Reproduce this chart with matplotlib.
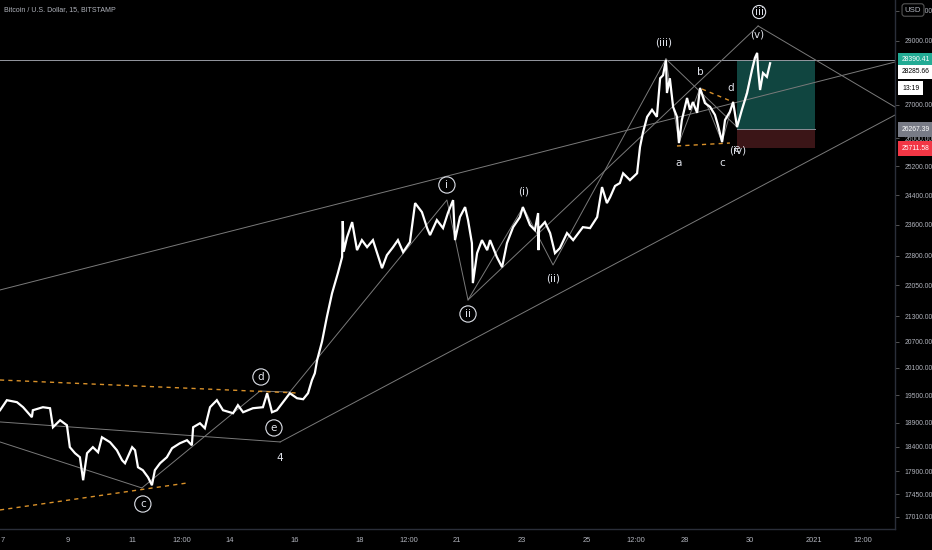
import matplotlib
matplotlib.use("Agg")
import matplotlib.pyplot as plt
import matplotlib.transforms as mtransforms
from matplotlib.ticker import FixedLocator, NullLocator, NullFormatter

# ── Datos: cierres (día de diciembre 2020, precio USD) ──
days = [6.91, 7.12, 7.43, 7.62, 7.89, 7.92, 8.23, 8.45, 8.54, 8.76, 8.97, 9.06,
        9.22, 9.37, 9.47, 9.59, 9.77, 9.93, 10.05, 10.30, 10.51, 10.67, 10.76,
        10.98, 11.07, 11.16, 11.31, 11.47, 11.59, 11.68, 11.84, 12.05, 12.21,
        12.45, 12.67, 12.82, 12.86, 13.07, 13.22, 13.38, 13.59, 13.78, 14.09,
        14.24, 14.40, 14.70, 15.01, 15.14, 15.29, 15.44, 15.63, 15.84, 16.06,
        16.25, 16.40, 16.52, 16.61, 16.68, 16.83, 16.98, 17.14, 17.32, 17.45,
        17.47, 17.50, 17.60, 17.76, 17.91, 18.06, 18.22, 18.40, 18.68, 18.83,
        19.02, 19.17, 19.33, 19.54, 19.70, 19.91, 20.07, 20.16, 20.37, 20.56,
        20.71, 20.87, 20.93, 21.08, 21.24, 21.33, 21.45, 21.48, 21.61, 21.76,
        21.92, 22.01, 22.22, 22.38, 22.53, 22.72, 22.93, 23.02, 23.24, 23.39,
        23.49, 23.50, 23.52, 23.70, 23.86, 24.01, 24.16, 24.38, 24.57, 24.87,
        25.09, 25.31, 25.46, 25.61, 25.71, 25.86, 26.01, 26.11, 26.32, 26.54,
        26.63, 26.72, 26.85, 27.00, 27.15, 27.25, 27.34, 27.43, 27.46, 27.55,
        27.65, 27.77, 27.83, 27.92, 28.08, 28.17, 28.26, 28.39, 28.48, 28.63,
        28.79, 28.94, 29.03, 29.16, 29.25, 29.40, 29.50, 29.62, 29.77, 29.93,
        30.08, 30.17, 30.24, 30.27, 30.33, 30.42, 30.54, 30.64]
prices = [19170, 19387, 19344, 19235, 19021, 19170, 19235, 19213, 18808, 18956,
          18850, 18392, 18268, 18186, 17723, 18268, 18392, 18288, 18598, 18494,
          18329, 18125, 18064, 18392, 18329, 17983, 17923, 17782, 17624, 17923,
          18064, 18186, 18371, 18473, 18536, 18432, 18808, 18892, 18787, 19235,
          19387, 19170, 19106, 19279, 19127, 19213, 19235, 19539, 19127, 19170,
          19344, 19539, 19430, 19408, 19539, 19826, 19982, 20276, 20700, 21279,
          21855, 22355, 22760, 23700, 22900, 23267, 23671, 22939, 23198, 23016,
          23198, 22480, 22810, 23016, 23198, 22887, 23146, 24181, 23938, 23512,
          23329, 23725, 23512, 23912, 24262, 23198, 23805, 24073, 23725, 23120,
          22106, 22862, 23198, 22939, 23198, 22760, 22505, 23120, 23538, 23805,
          24073, 23592, 23459, 23912, 22939, 23500, 23671, 23381, 22862, 22990,
          23381, 23198, 23538, 23512, 23805, 24619, 24181, 24345, 24650, 24730,
          25002, 24812, 25002, 25750, 26165, 26636, 26847, 26636, 27813, 27906,
          28390, 27358, 27813, 26934, 26636, 25866, 26542, 27205, 26847, 27082,
          26756, 27511, 27052, 26934, 26695, 26393, 25894, 26542, 26787, 27082,
          26334, 26847, 27358, 28072, 28452, 28613, 28072, 27450, 27978, 27858,
          28286]

# Ejes
y_ticks = [30000, 29000, 27000, 26000, 25200, 24400, 23600, 22800, 22050,
           21300, 20700, 20100, 19500, 18900, 18400, 17900, 17450, 17010]
x_ticks = [7, 9, 11, 12.5, 14, 16, 18, 19.5, 21, 23, 25, 26.5, 28, 30, 32, 33.5]
x_labels = ["7", "9", "11", "12:00", "14", "16", "18", "12:00", "21", "23",
            "25", "12:00", "28", "30", "2021", "12:00"]

# Puntos de onda (día, precio)
pt_c = (11.28, 17570)
pt_d = (14.92, 19587)
pt_d2 = (15.84, 19565)
pt_4 = (15.54, 18500)
pt_i = (20.68, 24265)
pt_ii = (21.33, 21692)
pt_si = (23.03, 24075)
pt_sii = (23.95, 22560)
pt_siii = (27.43, 28421)
pt_a = (27.83, 25866)
pt_b = (28.48, 27511)
pt_cc = (29.16, 25894)
pt_dd = (29.50, 27082)
pt_iv = (29.62, 26334)
pt_v = (30.24, 28613)
pt_iii_top = (30.27, 29492)

# Líneas auxiliares (inicio, fin)
upper_channel = [(6.908, 21937), (34.488, 28325)]
lower_channel = [pt_4, (34.488, 26691)]
left_line_4 = [(6.908, 18920), pt_4]
left_line_c = [(6.908, 18500), pt_c]
right_line = [pt_iii_top, (34.488, 26932)]
orange_top = [(6.908, 19831), (16.06, 19544)]
orange_bottom = [(6.908, 17142), (12.67, 17668)]
orange_ac = [(27.77, 25780), (29.40, 25866)]
orange_bd = [(28.54, 27480), (29.50, 27082)]

# Posición larga
pos_left, pos_right = 29.62, 32.02
target, entry, stop = 28390.41, 26267.39, 25711.58
last_price = 28285.66
last_tag_at = 28010      # la etiqueta se desplaza para no tapar la del objetivo
timer_tag_at = 27511

BG = "black"
TXT = "#b2b5be"
GRAY = "#7a7a7a"
ORANGE = "#d9912a"
AXIS_FONT = "Liberation Sans"
AXIS_SIZE = 4.9

fig = plt.figure(figsize=(9.32, 5.5), dpi=100, facecolor=BG)
ax = fig.add_axes([0, 21 / 550, 895 / 932, 529 / 550])
ax.set_facecolor(BG)
ax.set_yscale("log")
ax.set_xlim(6.908, 34.488)
ax.set_ylim(16780, 30364)

# ── Rectángulos de la posición ──
ax.fill_between([pos_left, pos_right], entry, target, color="#104540", lw=0, zorder=1)
ax.fill_between([pos_left, pos_right], stop, entry, color="#3b1517", lw=0, zorder=1)
ax.plot([pos_left, pos_right], [entry, entry], color="#8a8f98", lw=0.7, zorder=1.5)

# ── Líneas grises ──
def seg(points, **kw):
    xs, ys = zip(*points)
    ax.plot(xs, ys, **kw)

gray_kw = dict(color=GRAY, lw=0.7, zorder=2)
ax.axhline(target, color="#9598a1", lw=0.7, zorder=2)
seg(upper_channel, **gray_kw)
seg(lower_channel, **gray_kw)
seg(left_line_4, **gray_kw)
seg(left_line_c, **gray_kw)
seg([pt_c, pt_d, pt_d2, pt_i, pt_ii, pt_si, pt_sii, pt_siii], **gray_kw)
seg([pt_ii, pt_iii_top], **gray_kw)
seg(right_line, **gray_kw)
seg([pt_siii, pt_a, pt_b, pt_cc, pt_dd, pt_iv, pt_v], **gray_kw)
seg([pt_siii, pt_iv], **gray_kw)

dash_kw = dict(color=ORANGE, lw=1.0, ls=(0, (3, 3)), zorder=2)
for ln in (orange_top, orange_bottom, orange_ac, orange_bd):
    seg(ln, **dash_kw)

# ── Precio ──
ax.plot(days, prices, color="white", lw=1.6, zorder=5, solid_joinstyle="miter")

# ── Etiquetas de onda ──
lab_kw = dict(color="#e0e3eb", fontsize=7.5, ha="center", va="center", zorder=6)
circ = dict(boxstyle="circle,pad=0.3", fc="none", ec="#e0e3eb", lw=0.8)

ax.text(11.31, 17257, "c", bbox=circ, **lab_kw)
ax.text(14.95, 19898, "d", bbox=circ, **lab_kw)
ax.text(15.35, 18793, "e", bbox=circ, **lab_kw)
ax.text(15.54, 18171, "4", **lab_kw)
ax.text(20.68, 24677, "i", bbox=circ, **lab_kw)
ax.text(21.33, 21354, "ii", bbox=circ, **lab_kw)
ax.text(23.03, 24511, "(i)", **lab_kw)
ax.text(23.95, 22233, "(ii)", **lab_kw)
ax.text(27.37, 28935, "(iii)", **lab_kw)
ax.text(30.24, 29196, "(v)", **lab_kw)
ax.text(30.30, 29958, "iii", bbox=dict(circ, boxstyle="circle,pad=0.15"), **lab_kw)
ax.text(27.83, 25293, "a", **lab_kw)
ax.text(28.48, 28010, "b", **lab_kw)
ax.text(29.16, 25293, "c", **lab_kw)
ax.text(29.43, 27511, "d", **lab_kw)
ax.text(29.65, 25664, "(iv)", **lab_kw)
ax.text(29.61, 25700, "e", **lab_kw)

# ── Ejes y marcos ──
for side in ("top", "left"):
    ax.spines[side].set_visible(False)
for side in ("right", "bottom"):
    ax.spines[side].set_color("#2a2e39")
    ax.spines[side].set_linewidth(1.0)

ax.yaxis.tick_right()
ax.yaxis.set_major_locator(FixedLocator(y_ticks))
ax.yaxis.set_minor_locator(NullLocator())
ax.yaxis.set_minor_formatter(NullFormatter())
ax.set_yticklabels([f"{v:.2f}" for v in y_ticks])
ax.set_xticks(x_ticks)
ax.set_xticklabels(x_labels)
ax.tick_params(axis="y", colors="#555", labelcolor=TXT, length=3, width=0.7,
               pad=4, labelsize=AXIS_SIZE)
ax.tick_params(axis="x", length=0, pad=6, labelcolor=TXT, labelsize=5.4)
for lbl in ax.get_xticklabels() + ax.get_yticklabels():
    lbl.set_fontfamily(AXIS_FONT)

# Etiquetas de precio en el eje derecho
trans = mtransforms.blended_transform_factory(ax.transAxes, ax.transData)

def price_tag(level, text, fc, tc):
    ax.text(1.0 + 7 / 895, level, text, transform=trans, ha="left", va="center",
            fontsize=AXIS_SIZE, family=AXIS_FONT, color=tc, clip_on=False,
            zorder=10, bbox=dict(boxstyle="square,pad=0.55", fc=fc, ec="none"))

price_tag(target, f"{target:.2f}", "#22ab94", "white")
price_tag(last_tag_at, f"{last_price:.2f}", "white", "black")
price_tag(timer_tag_at, "13:19", "white", "black")
price_tag(entry, f"{entry:.2f}", "#787b86", "white")
price_tag(stop, f"{stop:.2f}", "#f23645", "white")

fig.text(913 / 932, 1 - 10 / 550, "USD", fontsize=5.6, family=AXIS_FONT, color=TXT,
         ha="center", va="center",
         bbox=dict(boxstyle="round,pad=0.35", fc=BG, ec="#555", lw=0.8))

fig.text(4 / 932, 1 - 10 / 550, "Bitcoin / U.S. Dollar, 15, BITSTAMP", fontsize=5,
         family=AXIS_FONT, color=TXT, ha="left", va="center")

fig.savefig("out.png", dpi=100, facecolor=BG)
